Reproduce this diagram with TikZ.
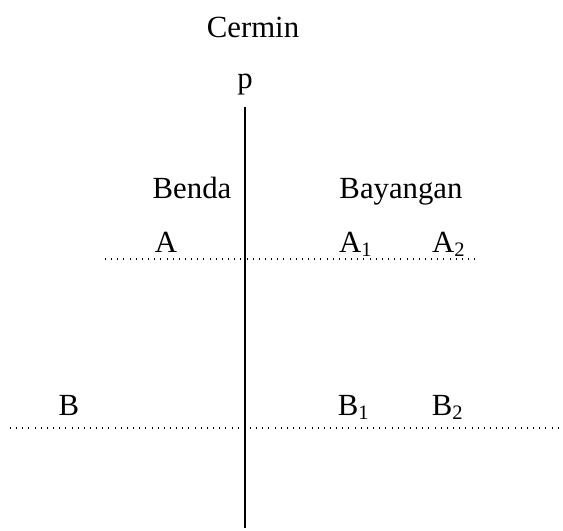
\documentclass[tikz,border=0pt]{standalone}
\usepackage{fontspec}
\setmainfont{Liberation Serif}
\usetikzlibrary{positioning}

\begin{document}
\begin{tikzpicture}[x=0.39pt, y=-0.39pt,
        label/.style={anchor=base, inner sep=0pt, font=\fontsize{12}{14}\selectfont},
        mirror/.style={line width=0.8pt},
        ray/.style={dotted, line width=0.4pt}
    ]
        \useasboundingbox (0,0) rectangle (563,530);

        % Cermin
        \node[label] (cermin) at (253,37) {Cermin};
        \node[label] (p) at (245,88) {p};
        \coordinate (ptop) at (245,107);
        \coordinate (pbot) at (245,528);
        \draw[mirror] (ptop) -- (pbot);

        % Benda dan bayangan
        \node[label] (benda) at (192,198) {Benda};
        \node[label] (bayangan) at (401,198) {Bayangan};

        % Garis A
        \node[label] (a) at (166,252) {A};
        \node[label] (a1) at (356,252) {A\textsubscript{1}};
        \node[label] (a2) at (449,252) {A\textsubscript{2}};
        \coordinate (al) at (105,259);
        \coordinate (ar) at (477,259);
        \draw[ray] (al) -- (ar);

        % Garis B
        \node[label] (b) at (69,415) {B};
        \node[label] (b1) at (354,415) {B\textsubscript{1}};
        \node[label] (b2) at (448,415) {B\textsubscript{2}};
        \coordinate (bl) at (10,428);
        \coordinate (br) at (563,428);
        \draw[ray] (bl) -- (br);
\end{tikzpicture}
\end{document}
